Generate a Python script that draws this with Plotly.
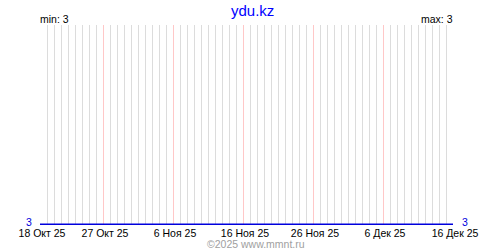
import pandas as pd
import plotly.graph_objects as go

dates = pd.date_range("2025-10-18", "2025-12-16", freq="D").strftime("%Y-%m-%d").tolist()
values = [3] * len(dates)
tick_dates = ["2025-10-18", "2025-10-27", "2025-11-06", "2025-11-16", "2025-11-26", "2025-12-06", "2025-12-16"]
tick_labels = ["18 Окт 25", "27 Окт 25", "6 Ноя 25", "16 Ноя 25", "26 Ноя 25", "6 Дек 25", "16 Дек 25"]
title = "ydu.kz"
vmin, vmax = min(values), max(values)

font = "Liberation Sans"
fig = go.Figure()
fig.add_trace(go.Scatter(x=dates, y=values, mode="lines",
                         line=dict(color="#0000dd", width=1.5), hoverinfo="skip"))

fig.update_layout(
    width=500, height=250,
    margin=dict(l=40, r=47, t=25, b=25),
    paper_bgcolor="white", plot_bgcolor="white",
    showlegend=False,
    font=dict(family=font, size=10, color="black"),
    xaxis=dict(
        type="date",
        range=[dates[0], dates[-1]],
        tickvals=tick_dates, ticktext=tick_labels,
        showgrid=True, gridcolor="#ffc8c8", gridwidth=1,
        minor=dict(dtick=86400000, tick0=dates[0], showgrid=True,
                   gridcolor="#dcdcdc", gridwidth=1),
        ticks="", ticklen=0, zeroline=False, showline=False,
        ticklabelshift=2,
        tickfont=dict(family=font, size=10.5, color="black"),
    ),
    yaxis=dict(
        range=[2.996, 4], tickvals=[4], showticklabels=False,
        showgrid=True, gridcolor="#dcdcdc", zeroline=False, showline=False,
        ticks="",
    ),
    annotations=[
        dict(text=title, x=(252 - 40) / 413, y=1.125, xref="paper", yref="paper", xanchor="center",
             yanchor="top", showarrow=False, font=dict(family=font, size=15, color="#0000ff")),
        dict(text=f"min: {vmin}", x=0.0, y=1.0, xref="x domain", yref="y domain",
             xanchor="left", yanchor="bottom", showarrow=False, yshift=-2, xshift=-2,
             font=dict(family=font, size=10.5, color="black")),
        dict(text=f"max: {vmax}", x=1.0, y=1.0, xref="x domain", yref="y domain",
             xanchor="right", yanchor="bottom", showarrow=False, yshift=-2, xshift=2,
             font=dict(family=font, size=10.5, color="black")),
        dict(text=str(vmin), x=0.0, y=vmin, xref="x domain", yref="y",
             xanchor="right", yanchor="middle", showarrow=False, yshift=2, xshift=-6,
             font=dict(family=font, size=10.5, color="#0000dd")),
        dict(text=str(vmax), x=1.0, y=vmax, xref="x domain", yref="y",
             xanchor="left", yanchor="middle", showarrow=False, yshift=2, xshift=7,
             font=dict(family=font, size=10.5, color="#0000dd")),
        dict(text="©2025 www.mmnt.ru", x=(256 - 40) / 413, y=-0.125, xref="paper", yref="paper",
             xanchor="center", yanchor="bottom", showarrow=False, yshift=-2,
             font=dict(family=font, size=10.5, color="#a0a0a0")),
    ],
)

fig.write_html("out.html")
